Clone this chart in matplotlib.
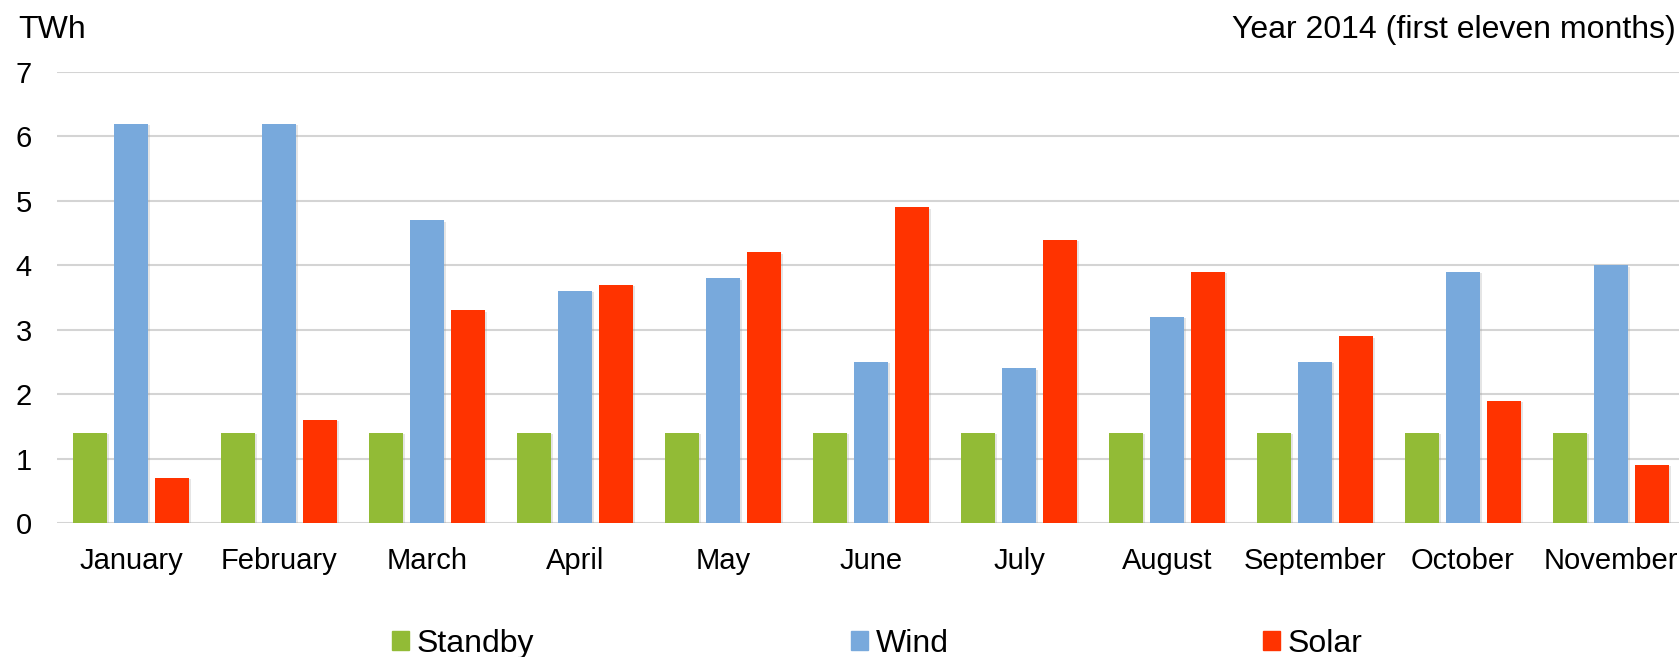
import numpy as np
import matplotlib.pyplot as plt
import matplotlib.patheffects as pe
from matplotlib.patches import Patch

months = ['January', 'February', 'March', 'April', 'May', 'June', 'July',
          'August', 'September', 'October', 'November']
standby = [1.4, 1.4, 1.4, 1.4, 1.4, 1.4, 1.4, 1.4, 1.4, 1.4, 1.4]
wind = [6.2, 6.2, 4.7, 3.6, 3.8, 2.5, 2.4, 3.2, 2.5, 3.9, 4.0]
solar = [0.7, 1.6, 3.3, 3.7, 4.2, 4.9, 4.4, 3.9, 2.9, 1.9, 0.9]

series = [('Standby', standby, '#92bb36'),
          ('Wind', wind, '#78a9dc'),
          ('Solar', solar, '#ff3300')]

plt.rcParams['font.family'] = ['Liberation Sans', 'DejaVu Sans']

fig = plt.figure(figsize=(16.79, 6.57), dpi=100)
ax = fig.add_axes([57/1679, 134/657, 1628/1679, 451/657])

x = np.arange(len(months))
width = 0.225
step = 0.277
shadow = [pe.SimplePatchShadow(offset=(2, -1), shadow_rgbFace='#999999', alpha=0.25),
          pe.Normal()]

for i, (name, vals, col) in enumerate(series):
    bars = ax.bar(x + (i - 1) * step, vals, width, color=col, zorder=3)
    for b in bars:
        b.set_path_effects(shadow)

ax.set_xlim(-0.5, len(months) - 0.5)
ax.set_ylim(0, 7)
ax.set_yticks(range(0, 8))
ax.set_xticks(x)
ax.set_xticklabels(months)
ax.tick_params(axis='both', length=0, labelsize=21)
ax.tick_params(axis='y', pad=18)
ax.tick_params(axis='x', pad=17)
ax.grid(axis='y', color='#d4d4d4', linewidth=1.5, zorder=0)
for s in ax.spines.values():
    s.set_visible(False)

fig.text(18/1679, 1 - 15/657, 'TWh', fontsize=23, ha='left', va='top')
fig.text(1676/1679, 1 - 15/657, 'Year 2014 (first eleven months)', fontsize=23,
         ha='right', va='top')

# legend entries sit at uneven spots along the bottom
legend_x = [392, 851, 1263]
for lx, (name, vals, col) in zip(legend_x, series):
    fig.legend(handles=[Patch(color=col, label=name)], loc='center left',
               bbox_to_anchor=(lx/1679, 1 - 644/657), frameon=False,
               fontsize=23, handlelength=0.52, handleheight=0.52,
               handletextpad=0.25, borderpad=0, borderaxespad=0)

fig.savefig('out.png', dpi=100)
